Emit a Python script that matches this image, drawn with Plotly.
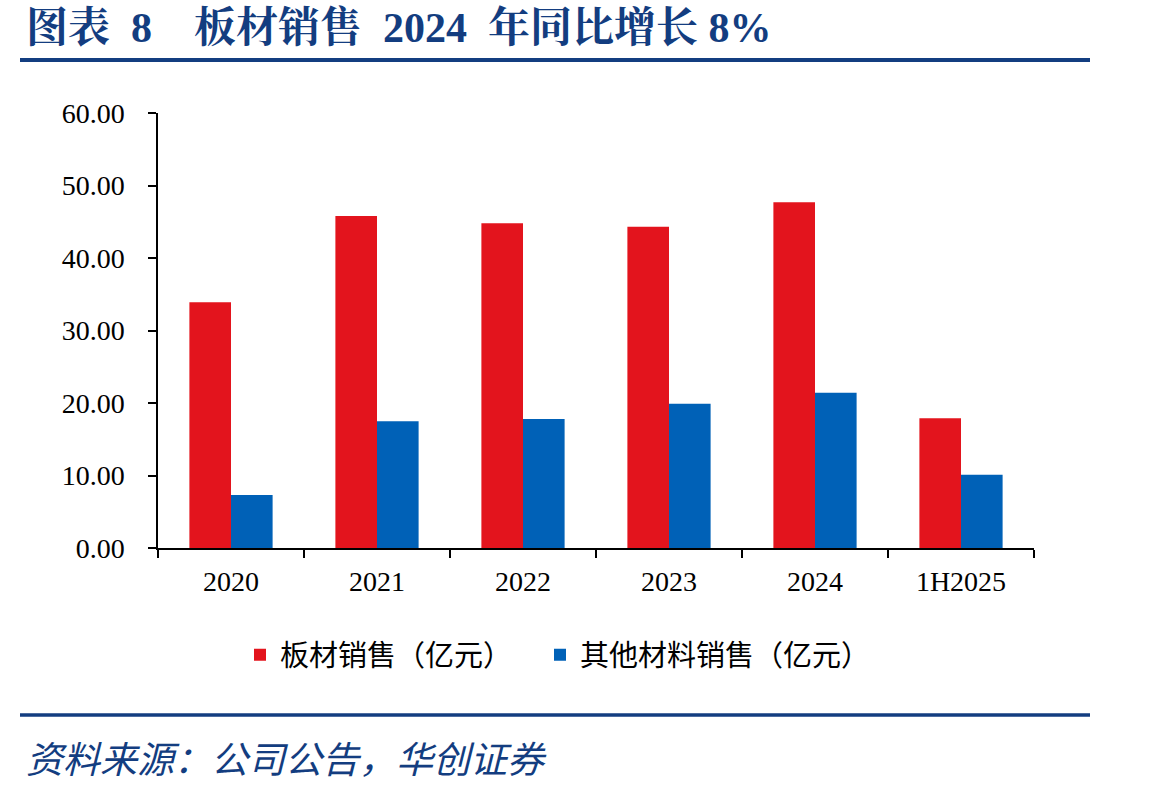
import plotly.graph_objects as go

categories = ["2020", "2021", "2022", "2023", "2024", "1H2025"]
board_sales = [33.9, 45.8, 44.8, 44.3, 47.7, 17.9]
other_sales = [7.3, 17.5, 17.8, 19.9, 21.4, 10.1]
series_names = ["板材销售（亿元）", "其他材料销售（亿元）"]
y_ticks = [0, 10, 20, 30, 40, 50, 60]

W, H = 1149, 792
L, R, T, B = 158, 115, 113, 244
pw, ph = W - L - R, H - T - B

def px(x):
    return (x - L) / pw

def py(y):
    return (H - B - y) / ph

RED = "#E3141D"
BLUE = "#0061B7"
NAVY = "#133D80"

fig = go.Figure()
fig.add_trace(go.Bar(x=categories, y=board_sales, name=series_names[0], legend="legend",
                     marker=dict(color=RED, line=dict(width=0))))
fig.add_trace(go.Bar(x=categories, y=other_sales, name=series_names[1], legend="legend2",
                     marker=dict(color=BLUE, line=dict(width=0))))

tickfont = dict(family="Liberation Serif, Times New Roman, serif", size=28, color="#000000")
legfont = dict(family="Noto Sans CJK SC, sans-serif", size=29, color="#000000")

fig.update_layout(
    width=W, height=H, autosize=False,
    margin=dict(l=L, r=R, t=T, b=B, pad=0),
    paper_bgcolor="white", plot_bgcolor="white",
    barmode="group", bargap=0.43, bargroupgap=0,
    showlegend=True,
    legend=dict(orientation="h", x=px(240), xanchor="left", y=py(655), yanchor="middle",
                font=legfont, itemwidth=30, bgcolor="rgba(0,0,0,0)"),
    legend2=dict(orientation="h", x=px(540), xanchor="left", y=py(655), yanchor="middle",
                 font=legfont, itemwidth=30, bgcolor="rgba(0,0,0,0)"),
    xaxis=dict(type="category", showline=True, linecolor="#000000", linewidth=1.5,
               ticks="outside", tickson="boundaries", ticklen=8, tickwidth=1.5, tickcolor="#000000",
               tickfont=tickfont, showgrid=False, zeroline=False, fixedrange=True,
               ticklabelstandoff=8),
    yaxis=dict(range=[0, 60], tickvals=y_ticks, tickformat=".2f", showline=True,
               linecolor="#000000", linewidth=1.5, ticks="outside", ticklen=8, tickwidth=1.5,
               tickcolor="#000000", tickfont=tickfont, showgrid=False, zeroline=False,
               ticklabelstandoff=18, fixedrange=True),
)

fig.add_annotation(xref="paper", yref="paper", x=px(24), y=py(28), xanchor="left", yanchor="middle",
                   text="<b>图表\u00a0\u00a08\u00a0\u00a0\u00a0\u00a0板材销售\u00a0\u00a02024\u00a0\u00a0年同比增长\u00a08%</b>",
                   showarrow=False,
                   font=dict(family="Liberation Serif, Noto Serif CJK SC, Noto Sans CJK SC, serif",
                             size=42, color=NAVY))
fig.add_annotation(xref="paper", yref="paper", x=px(24), y=py(757), xanchor="left", yanchor="middle",
                   text="<i>资料来源：公司公告，华创证券</i>", showarrow=False,
                   font=dict(family="Noto Sans CJK SC, sans-serif", size=37, color=NAVY))

fig.add_shape(type="line", xref="paper", yref="paper", x0=px(20), x1=px(1090), y0=py(60), y1=py(60),
              line=dict(color=NAVY, width=4))
fig.add_shape(type="line", xref="paper", yref="paper", x0=px(20), x1=px(1090), y0=py(715), y1=py(715),
              line=dict(color=NAVY, width=3.5))

fig.write_html("out.html")
